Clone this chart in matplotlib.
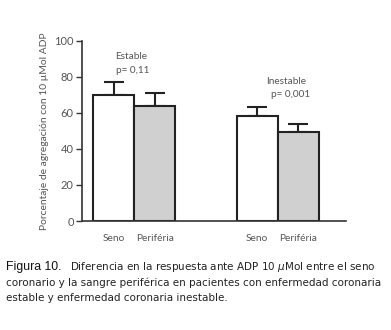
import numpy as np
import matplotlib
matplotlib.use("Agg")
import matplotlib.pyplot as plt

# data
groups = ["Estable", "Inestable"]
pvalues = ["p= 0,11", "p= 0,001"]
bar_labels = ["Seno", "Periféria", "Seno", "Periféria"]
means = [70, 64, 58.5, 49.5]
errors = [7, 7, 5, 4.5]
positions = [0, 1, 3.5, 4.5]
fills = ["white", "#d0d0d0", "white", "#d0d0d0"]

plt.rcParams["font.family"] = ["Lato", "DejaVu Sans"]
grey = "#555555"

fig = plt.figure(figsize=(3.91, 3.30), dpi=100)
ax = fig.add_axes([0.2097, 0.3303, 0.885 - 0.2097, 0.8767 - 0.3303])

ax.bar(positions, means, width=1.0, color=fills, edgecolor="#222222", linewidth=1.5, zorder=2)
ax.errorbar(positions, means, yerr=[np.zeros(len(errors)), errors], fmt="none",
            ecolor="#222222", elinewidth=1.5, capsize=7.5, capthick=1.5, zorder=1)

ax.set_xlim(-0.77, 5.67)
ax.set_ylim(0, 100)
ax.set_yticks([0, 20, 40, 60, 80, 100])
ax.set_xticks(positions)
ax.set_xticklabels(bar_labels)
ax.tick_params(axis="x", length=0, pad=9, labelsize=7.3, colors=grey)
ax.tick_params(axis="y", length=4, width=1, labelsize=8, colors="#333333", labelcolor=grey, pad=2)
for s in ["top", "right"]:
    ax.spines[s].set_visible(False)
for s in ["left", "bottom"]:
    ax.spines[s].set_color("#333333")
    ax.spines[s].set_linewidth(1.2)

ax.set_ylabel("Porcentaje de agregación con 10 µMol ADP", fontsize=7.4, color=grey, labelpad=4)

# group annotations
ax.text(0.05, 91, groups[0], fontsize=7.2, color=grey, va="center")
ax.text(0.05, 83.5, pvalues[0], fontsize=7.2, color=grey, va="center")
ax.text(3.73, 77.5, groups[1], fontsize=7.2, color=grey, va="center")
ax.text(3.85, 70, pvalues[1], fontsize=7.2, color=grey, va="center")

# caption
cap = ["DejaVu Sans"]
fig.text(0.015, 1 - 267 / 330, "Figura 10.", fontsize=8.8, color="#111111",
         family=["Liberation Sans", "DejaVu Sans"], va="center")
fig.text(0.178, 1 - 267 / 330,
         "Diferencia en la respuesta ante ADP 10 $\\mu$Mol entre el seno",
         fontsize=7.5, color="#222222", va="center", family=cap)
fig.text(0.015, 1 - 283 / 330,
         "coronario y la sangre periférica en pacientes con enfermedad coronaria",
         fontsize=7.5, color="#222222", va="center", family=cap)
fig.text(0.015, 1 - 298 / 330,
         "estable y enfermedad coronaria inestable.",
         fontsize=7.5, color="#222222", va="center", family=cap)

fig.savefig("out.png", dpi=100)
